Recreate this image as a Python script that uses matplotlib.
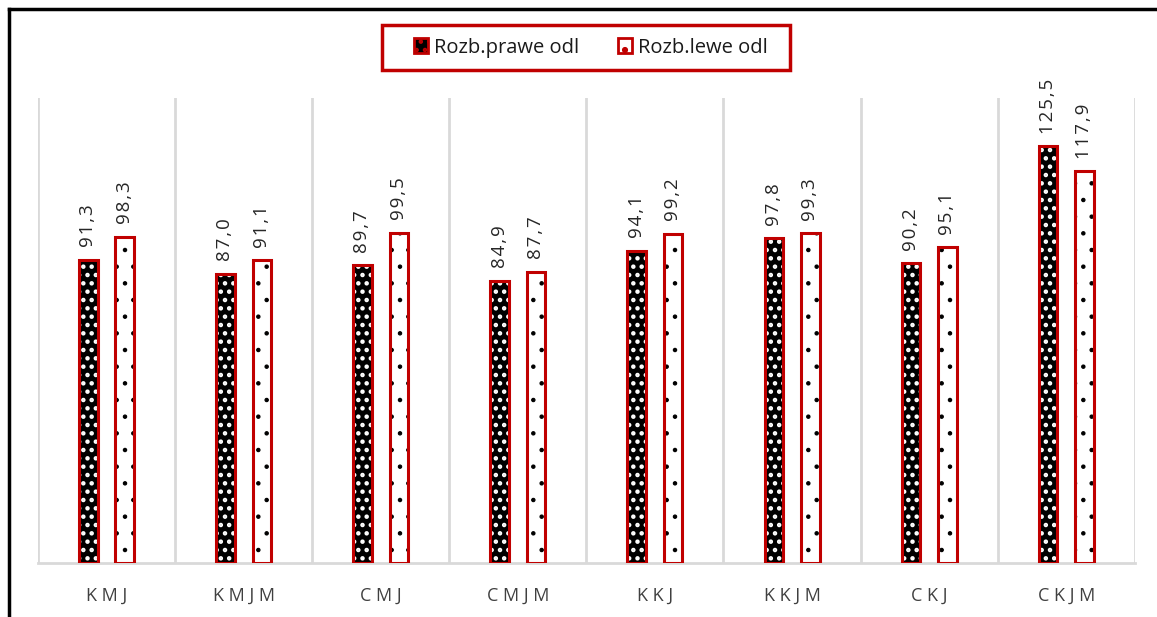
import matplotlib
matplotlib.use("Agg")
from matplotlib import pyplot as plt
from matplotlib.lines import Line2D
from matplotlib.patches import Rectangle
import numpy as np

plt.rcParams['font.family'] = ['Open Sans', 'DejaVu Sans']

categories = ["K M J", "K M J M", "C M J", "C M J M", "K K J", "K K J M", "C K J", "C K J M"]
prawe = [91.3, 87.0, 89.7, 84.9, 94.1, 97.8, 90.2, 125.5]
lewe = [98.3, 91.1, 99.5, 87.7, 99.2, 99.3, 95.1, 117.9]
series_names = ["Rozb.prawe odl", "Rozb.lewe odl"]

RED = "#c00000"
GRID = "#d9d9d9"


def fmt(v):
    # comma decimal, letters spread out a little
    return "\u200a".join(f"{v:.1f}".replace(".", ","))


fig = plt.figure(figsize=(11.57, 6.17), dpi=100)
ax = fig.add_axes([0.0328, 0.0875, 0.948, 0.7535])

x = np.arange(len(categories))
w = 0.135
off = 0.133

# dark bars: black fill with white dots, red outline on top
plt.rcParams['hatch.linewidth'] = 2.0
ax.bar(x - off, prawe, w, color="black", edgecolor="white", hatch="..", linewidth=0, zorder=2)
ax.bar(x - off, prawe, w, color="none", edgecolor=RED, linewidth=2.2, zorder=3)
# light bars: white fill with sparse tiny black dots
plt.rcParams['hatch.linewidth'] = 0.8
ax.bar(x + off, lewe, w, color="white", edgecolor="black", hatch=".", linewidth=0, zorder=2)
ax.bar(x + off, lewe, w, color="none", edgecolor=RED, linewidth=2.2, zorder=3)

for xi, v in zip(x - off, prawe):
    ax.text(xi, v + 3.8, fmt(v), rotation=90, ha="center", va="bottom",
            fontsize=13.5, color="#262626")
for xi, v in zip(x + off, lewe):
    ax.text(xi, v + 3.8, fmt(v), rotation=90, ha="center", va="bottom",
            fontsize=13.5, color="#262626")

ax.set_xlim(-0.5, len(categories) - 0.5)
ax.set_ylim(0, 140)
ax.set_xticks(x)
ax.set_xticklabels(categories, fontsize=13, color="#404040")
ax.tick_params(axis="x", length=0, pad=17)
ax.set_yticks([])
for s in ["top", "right", "left"]:
    ax.spines[s].set_visible(False)
ax.spines["bottom"].set_color(GRID)
ax.spines["bottom"].set_linewidth(2)
for b in np.arange(-0.5, len(categories), 1.0):
    ax.axvline(b, color=GRID, linewidth=2, zorder=1)

# legend entries, framed by a separate red box
plt.rcParams['hatch.linewidth'] = 2.0
handles = [
    plt.Rectangle((0, 0), 1, 1, facecolor="black", edgecolor=RED, linewidth=2, hatch=".."),
    plt.Rectangle((0, 0), 1, 1, facecolor="white", edgecolor=RED, linewidth=2, hatch="."),
]
leg = fig.legend(handles, series_names, loc="center", bbox_to_anchor=(0.5108, 0.923), ncol=2,
                 fontsize=14.5, frameon=False, handlelength=0.7, handleheight=0.7,
                 columnspacing=1.9, handletextpad=0.3, borderaxespad=0)
for t in leg.get_texts():
    t.set_color("#1a1a1a")
fig.add_artist(Rectangle((0.330, 0.8865), 0.3526, 0.0729, transform=fig.transFigure,
                         facecolor="none", edgecolor=RED, linewidth=2.5))

# outer frame lines on the top and left
fig.add_artist(Line2D([0.0075, 1.0], [0.9855, 0.9855], color="black", linewidth=2.5, transform=fig.transFigure))
fig.add_artist(Line2D([0.0075, 0.0075], [0.0, 0.9855], color="black", linewidth=2.5, transform=fig.transFigure))

fig.savefig("out.png", dpi=100)
